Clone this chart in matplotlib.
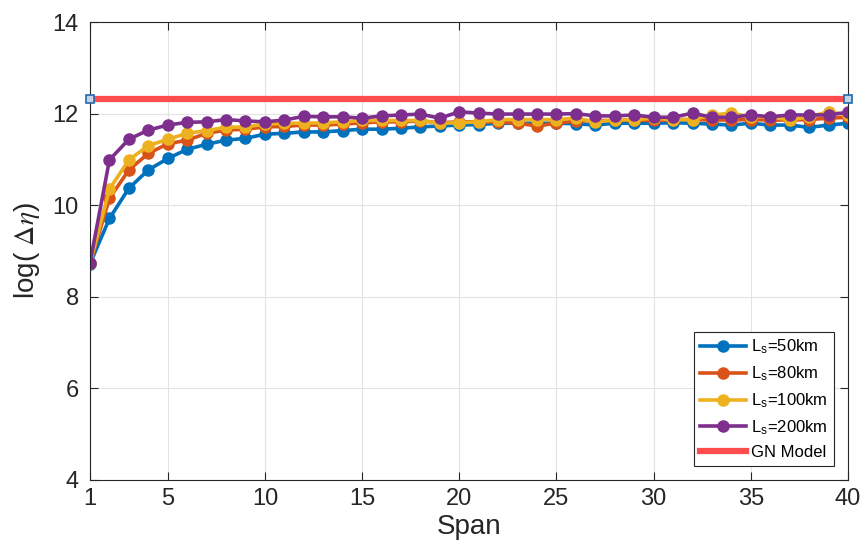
import numpy as np
import matplotlib
matplotlib.use('Agg')
import matplotlib.pyplot as plt

plt.rcParams['font.family'] = ['Liberation Sans', 'DejaVu Sans']
plt.rcParams['mathtext.fontset'] = 'stix'

# data
spans = np.arange(1, 41)
ls_50 = [8.72, 9.71, 10.37, 10.77, 11.02, 11.22, 11.33, 11.42, 11.46, 11.55,
         11.57, 11.60, 11.60, 11.63, 11.66, 11.66, 11.68, 11.71, 11.73, 11.75,
         11.76, 11.79, 11.79, 11.79, 11.79, 11.78, 11.75, 11.79, 11.79, 11.79,
         11.80, 11.79, 11.77, 11.75, 11.79, 11.75, 11.75, 11.70, 11.75, 11.79]
ls_80 = [8.73, 10.15, 10.77, 11.13, 11.34, 11.42, 11.57, 11.64, 11.66, 11.71,
         11.72, 11.75, 11.75, 11.77, 11.80, 11.82, 11.82, 11.84, 11.80, 11.82,
         11.82, 11.82, 11.79, 11.73, 11.79, 11.84, 11.85, 11.85, 11.86, 11.85,
         11.87, 11.87, 11.86, 11.86, 11.87, 11.86, 11.86, 11.87, 11.90, 11.92]
ls_100 = [8.73, 10.35, 10.99, 11.30, 11.44, 11.57, 11.63, 11.70, 11.71, 11.77,
          11.79, 11.79, 11.80, 11.82, 11.85, 11.85, 11.85, 11.85, 11.79, 11.80,
          11.82, 11.87, 11.87, 11.87, 11.87, 11.90, 11.82, 11.86, 11.87, 11.90,
          11.87, 11.87, 11.97, 12.01, 11.93, 11.93, 11.86, 11.93, 12.04, 11.97]
ls_200 = [8.74, 10.99, 11.44, 11.64, 11.75, 11.81, 11.82, 11.87, 11.84, 11.82,
          11.86, 11.94, 11.93, 11.93, 11.90, 11.95, 11.97, 11.99, 11.90, 12.04,
          12.01, 11.99, 11.99, 11.99, 11.99, 12.00, 11.95, 11.95, 11.97, 11.92,
          11.92, 12.01, 11.92, 11.92, 11.97, 11.93, 11.97, 11.97, 11.97, 12.03]
gn_model = 12.32

series = [
    (ls_50, '#0072BD', r'L$_\mathregular{s}$=50km'),
    (ls_80, '#D95319', r'L$_\mathregular{s}$=80km'),
    (ls_100, '#EDB120', r'L$_\mathregular{s}$=100km'),
    (ls_200, '#7E2F8E', r'L$_\mathregular{s}$=200km'),
]

fig = plt.figure(figsize=(8.63, 5.56), dpi=100)
ax = fig.add_axes([0.1043, 0.1367, 0.8783, 0.8237])

for vals, col, lab in series:
    ax.plot(spans, vals, '-o', color=col, linewidth=2.6, markersize=8, label=lab)

gn_x = [spans[0], spans[-1]]
ax.plot(gn_x, [gn_model, gn_model], '-', color='#FF4D4D', linewidth=4.5, label='GN Model')
ax.plot(gn_x, [gn_model, gn_model], 's', linestyle='none', markersize=6,
        markerfacecolor='#C5D3E8', markeredgecolor='#1F6AAE', markeredgewidth=1.2,
        clip_on=False, zorder=5, label='_nolegend_')

ax.set_xlim(1, 40)
ax.set_ylim(4, 14)
ax.set_xticks([1, 5, 10, 15, 20, 25, 30, 35, 40])
ax.set_yticks([4, 6, 8, 10, 12, 14])
ax.tick_params(direction='in', top=True, right=True, labelsize=17, length=6,
               color='#262626', labelcolor='#262626')
ax.tick_params(axis='y', pad=8)
ax.tick_params(axis='x', pad=6)
ax.grid(True, color='#E3E3E3', linewidth=0.8)
ax.set_axisbelow(True)
for s in ax.spines.values():
    s.set_color('#262626')
    s.set_linewidth(0.8)

ax.set_xlabel('Span', fontsize=20, labelpad=3, color='#262626')
ax.set_ylabel(r'log( $\mathrm{\Delta}\eta$)', fontsize=20, labelpad=8, color='#262626')

leg = ax.legend(loc='lower right', fontsize=12, fancybox=False, framealpha=1,
                edgecolor='#262626', handlelength=2.8, borderpad=0.35,
                labelspacing=0.5, handletextpad=0.3, borderaxespad=0.85)
leg.get_frame().set_linewidth(0.8)

fig.savefig('out.png', dpi=100)
